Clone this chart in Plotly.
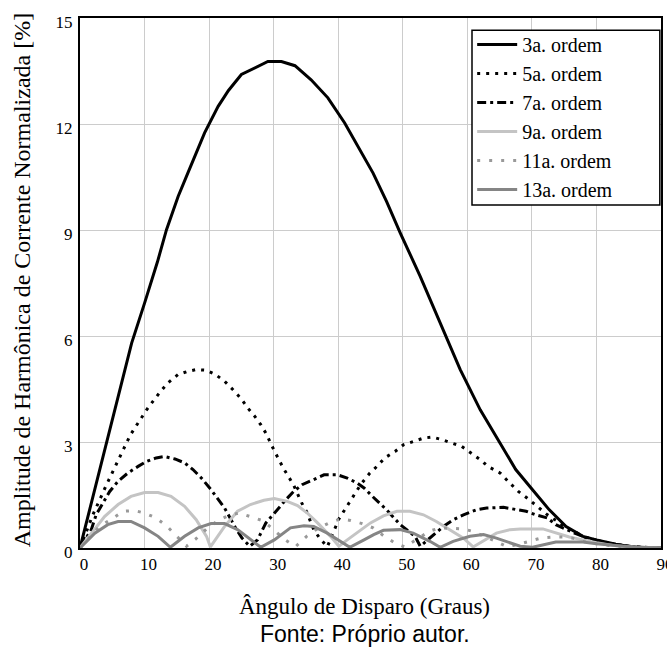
import plotly.graph_objects as go

# ---- data ----
x3 = [0, 2, 4.3, 6, 8, 10, 12, 13.4, 15.2, 16.7, 19.3, 21.4, 23, 25, 27.1, 29.1, 31.2, 33.3, 35.8, 38.4, 41, 43.4,
      45.4, 47.5, 49.6, 52.7, 56.3, 58.9, 62, 64.5, 67.5, 70.1, 72.7, 75.3, 77.9, 80, 83, 85.6, 90]
y3 = [0, 1.45, 3.07, 4.35, 5.8, 6.93, 8.1, 9.01, 9.95, 10.61, 11.75, 12.5, 12.95, 13.4, 13.59, 13.77, 13.77, 13.65,
      13.25, 12.74, 12.03, 11.27, 10.61, 9.8, 8.92, 7.69, 6.18, 5.05, 3.91, 3.16, 2.22, 1.65, 1.08, 0.61, 0.33,
      0.23, 0.11, 0.03, 0]

x5 = [0, 2, 4, 6, 7.8, 9.5, 10.5, 12.3, 13.6, 15.2, 16.7, 18, 19.6, 20.9, 22.4, 23.7, 25, 26, 27.1, 28, 28.8, 30.1,
      31.5, 33.1, 34.3, 35.1, 36.2, 37, 38.3, 40.1, 41.9, 43.5, 44.9, 46, 47.2, 48.8, 50.1, 51.6, 53.2, 54.5, 56,
      57.6, 59.1, 60.4, 62, 63.2, 65.1, 66.3, 67.9, 69.3, 70.9, 72.4, 74, 75.3, 76.6, 78.4, 80, 83, 86, 90]
y5 = [0, 0.94, 1.75, 2.5, 3.2, 3.68, 3.96, 4.39, 4.67, 4.91, 5.0, 5.05, 5.03, 4.92, 4.72, 4.48, 4.22, 3.96, 3.72,
      3.49, 3.25, 2.75, 2.26, 1.78, 1.29, 1.03, 0.52, 0.31, 0.03, 0.82, 1.32, 1.8, 2.12, 2.31, 2.55, 2.73, 2.92,
      3.02, 3.11, 3.14, 3.07, 2.97, 2.88, 2.71, 2.5, 2.31, 2.12, 1.89, 1.6, 1.41, 1.18, 0.94, 0.75, 0.57, 0.47,
      0.28, 0.2, 0.1, 0.03, 0]

x7 = [0, 1.75, 2.5, 4.6, 5.9, 7.4, 9.0, 10.3, 11.8, 13.1, 14.7, 16.2, 17.5, 18.8, 20.3, 21.4, 22.4, 24.1, 25.1, 26.3,
      27.5, 28.8, 29.8, 30.8, 31.9, 33.1, 34.4, 36.0, 37.8, 39.9, 41.4, 42.9, 44.0, 45.3, 47.5, 49.6, 51.9, 52.7,
      53.9, 55.0, 56.3, 57.8, 59.4, 61.4, 63.0, 65.6, 67.5, 69.1, 70.6, 72.4, 73.7, 75.3, 76.6, 77.9, 80, 83, 86, 90]
y7 = [0, 0.52, 0.94, 1.6, 1.89, 2.12, 2.31, 2.45, 2.55, 2.59, 2.52, 2.41, 2.22, 1.98, 1.65, 1.37, 1.13, 0.57, 0.28,
      0.05, 0.23, 0.71, 0.91, 1.13, 1.37, 1.6, 1.79, 1.93, 2.07, 2.07, 1.98, 1.84, 1.70, 1.46, 1.08, 0.66, 0.33,
      0.05, 0.23, 0.42, 0.61, 0.8, 0.94, 1.08, 1.13, 1.15, 1.08, 1.04, 0.94, 0.85, 0.66, 0.52, 0.42, 0.33, 0.22,
      0.1, 0.03, 0]

x9 = [0, 1.75, 3.8, 5.9, 7.9, 10.0, 12.1, 14.1, 16.2, 18.0, 19.6, 20.2, 21.4, 22.4, 24.4, 26.4, 28.5, 30.1, 32.1,
      33.7, 35.2, 36.8, 38.8, 40.1, 41.4, 42.9, 45.0, 47.0, 49.1, 51.1, 53.2, 55.2, 57.3, 59.4, 60.9, 62.4, 64.5,
      66.6, 68.2, 71.7, 73.7, 75.8, 77.9, 80, 83, 86, 90]
y9 = [0, 0.42, 0.89, 1.23, 1.46, 1.57, 1.57, 1.46, 1.18, 0.8, 0.33, 0.03, 0.33, 0.61, 1.04, 1.23, 1.35, 1.40, 1.32,
      1.20, 0.99, 0.71, 0.33, 0.05, 0.23, 0.42, 0.71, 0.91, 1.04, 1.04, 0.94, 0.75, 0.52, 0.28, 0.03, 0.19, 0.42,
      0.52, 0.54, 0.54, 0.42, 0.31, 0.23, 0.15, 0.06, 0.02, 0]

x11 = [0, 1.5, 3.0, 4.9, 6.7, 8.4, 10.0, 11.8, 13.5, 14.9, 16.5, 17.9, 19.6, 21.4, 23, 24.7, 26.4, 28.2, 29.9, 31.6,
       33.4, 35.1, 36.8, 38.6, 40.3, 41.9, 43.7, 45.4, 47.0, 48.8, 50.3, 52.3, 54.1, 55.7, 57.6, 59.3, 60.9, 62.7,
       64.4, 66.1, 67.8, 69.6, 71.4, 73.2, 74.8, 76.3, 77.8, 80, 83, 86, 90]
y11 = [0, 0.32, 0.61, 0.82, 1.04, 1.06, 0.99, 0.85, 0.61, 0.35, 0.05, 0.25, 0.54, 0.78, 0.92, 0.99, 0.89, 0.78, 0.54,
       0.25, 0.04, 0.33, 0.55, 0.71, 0.82, 0.78, 0.69, 0.57, 0.35, 0.14, 0.03, 0.25, 0.47, 0.57, 0.55, 0.54, 0.47,
       0.33, 0.19, 0.04, 0.1, 0.19, 0.28, 0.31, 0.31, 0.28, 0.19, 0.12, 0.05, 0.02, 0]

x13 = [0, 2.3, 4.3, 5.9, 7.9, 10.0, 12.1, 14.0, 16.2, 18.3, 20.3, 22.4, 24.4, 26.4, 28.0, 30.1, 32.6, 34.7, 36.2,
       38.3, 40.4, 41.8, 44.0, 45.5, 47.0, 49.6, 51.6, 54.2, 55.8, 57.8, 60.4, 62.5, 64.5, 66.6, 68.2, 70.1, 71.8,
       73.7, 75.8, 77.9, 80, 83, 86, 90]
y13 = [0, 0.42, 0.66, 0.75, 0.75, 0.57, 0.33, 0.02, 0.33, 0.57, 0.69, 0.69, 0.52, 0.23, 0.02, 0.23, 0.57, 0.63, 0.61,
       0.42, 0.19, 0.02, 0.23, 0.38, 0.5, 0.52, 0.42, 0.19, 0.02, 0.19, 0.33, 0.38, 0.28, 0.14, 0.05, 0.02, 0.1,
       0.17, 0.17, 0.17, 0.12, 0.06, 0.02, 0]

names = ["3a. ordem", "5a. ordem", "7a. ordem", "9a. ordem", "11a. ordem", "13a. ordem"]
xtick_vals = [0, 10, 20, 30, 40, 50, 60, 70, 80, 90]
ytick_vals = [0, 3, 6, 9, 12, 15]

xs = [x3, x5, x7, x9, x11, x13]
ys = [y3, y5, y7, y9, y11, y13]
styles = [
    dict(color="#000000", width=3, dash="solid"),
    dict(color="#000000", width=3, dash="3px,6px"),
    dict(color="#000000", width=3, dash="9px,4px,3px,4px"),
    dict(color="#c4c4c4", width=3, dash="solid"),
    dict(color="#999999", width=3, dash="3px,9px"),
    dict(color="#858585", width=3, dash="solid"),
]

fig = go.Figure()
for xv, yv, nm, st in zip(xs, ys, names, styles):
    fig.add_trace(go.Scatter(x=xv, y=yv, mode="lines", name=nm, line=st))

serif = "Liberation Serif, Times New Roman, serif"
fig.update_layout(
    width=667, height=653,
    margin=dict(l=80, r=6, t=18, b=105, autoexpand=False),
    paper_bgcolor="white", plot_bgcolor="white",
    font=dict(family=serif, color="black"),
    showlegend=True,
    legend=dict(x=0.675, y=0.987, xanchor="left", yanchor="top",
                borderwidth=0, bgcolor="rgba(0,0,0,0)",
                font=dict(family=serif, size=20, color="black"),
                tracegroupgap=0, itemwidth=40),
    shapes=[dict(type="rect", xref="paper", yref="paper", x0=0.6747, x1=0.998, y0=0.647, y1=0.977,
                 line=dict(color="black", width=1.5), fillcolor="white", layer="above")],
    annotations=[
        dict(text="Ângulo de Disparo (Graus)", xref="paper", yref="paper", x=0.49, y=-0.111,
             xanchor="center", yanchor="middle", showarrow=False,
             font=dict(family=serif, size=23, color="black")),
        dict(text="Fonte: Próprio autor.", xref="paper", yref="paper", x=0.49, y=-0.163,
             xanchor="center", yanchor="middle", showarrow=False,
             font=dict(family="Liberation Sans, Arial, sans-serif", size=23, color="black")),
        dict(text="Amplitude de Harmônica de Corrente Normalizada [%]", xref="paper", yref="paper",
             x=-0.1, y=0.505, xanchor="center", yanchor="middle", textangle=-90, showarrow=False,
             font=dict(family=serif, size=24, color="black")),
    ],
)
fig.update_xaxes(range=[0, 90], tickvals=xtick_vals, ticktext=[str(v) for v in xtick_vals],
                 showgrid=True, gridcolor="#cccccc", gridwidth=1,
                 showline=True, linecolor="black", linewidth=2, mirror=True,
                 ticks="", zeroline=False, tickfont=dict(family=serif, size=17, color="black"),
                 ticklabelshift=4, ticklabeloverflow="allow", automargin=False)
fig.update_yaxes(range=[0, 15], tickvals=ytick_vals, ticktext=[str(v) for v in ytick_vals],
                 showgrid=True, gridcolor="#cccccc", gridwidth=1,
                 showline=True, linecolor="black", linewidth=2, mirror=True,
                 ticks="", zeroline=False, tickfont=dict(family=serif, size=17, color="black"),
                 ticklabelshift=4, ticklabelstandoff=2, ticklabeloverflow="allow", automargin=False)

fig.write_html("out.html", config={"displayModeBar": False},
               post_script="document.body.style.margin='0';document.body.style.overflow='hidden';")
